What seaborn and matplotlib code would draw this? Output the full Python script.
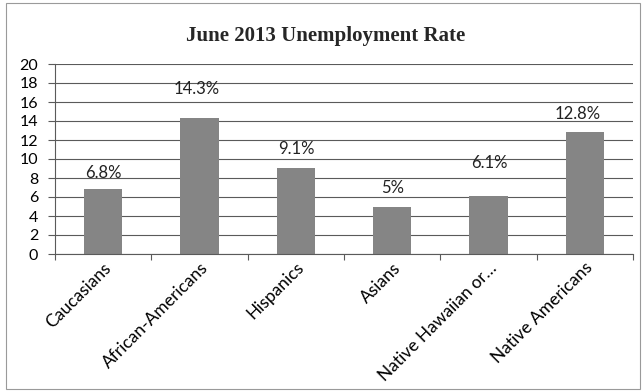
import matplotlib
matplotlib.use("Agg")
import matplotlib.pyplot as plt
from matplotlib.patches import Rectangle
from matplotlib.ticker import FixedLocator, MultipleLocator
import seaborn as sns
import pandas as pd

# June 2013 unemployment rate by group (percent)
groups = ["Caucasians", "African-Americans", "Hispanics", "Asians",
          "Native Hawaiian or\u2026", "Native Americans"]
rates = [6.8, 14.3, 9.1, 5.0, 6.1, 12.8]
rate_labels = ["6.8%", "14.3%", "9.1%", "5%", "6.1%", "12.8%"]
y_ticks = list(range(0, 21, 2))

# hand-placed label nudges (points) relative to the top centre of each bar
label_dx = [0.5, -2.0, 0.3, 0.5, 0.3, -5.0]
label_dy = [11.5, 21.0, 13.0, 13.0, 23.5, 13.5]

sns.set_theme(style="white")
plt.rcParams["font.family"] = ["Lato", "DejaVu Sans"]

df = pd.DataFrame({"group": groups, "rate": rates})

fig = plt.figure(figsize=(6.44, 3.92), dpi=100)
ax = fig.add_axes([55 / 644, 1 - 254 / 392, 578 / 644, 190 / 392])

sns.barplot(data=df, x="group", y="rate", color="#858585", width=0.4,
            saturation=1, edgecolor="none", ax=ax)

ax.set_ylim(0, 20)
ax.set_xlim(-0.5, len(groups) - 0.5)
ax.yaxis.set_major_locator(FixedLocator(y_ticks))
ax.grid(axis="y", color="#5a5a5a", linewidth=0.8)
ax.set_axisbelow(True)

ax.tick_params(axis="y", which="major", direction="out", length=5,
               width=0.8, color="#5a5a5a", pad=7, labelsize=11.5,
               labelcolor="black", left=True)
ax.set_yticklabels([str(t) for t in y_ticks])

# category labels at bar centres, tick marks at category boundaries
ax.tick_params(axis="x", which="major", length=0, pad=4, labelsize=12.5,
               labelcolor="black")
ax.xaxis.set_minor_locator(MultipleLocator(1, offset=0.5))
ax.tick_params(axis="x", which="minor", direction="out", length=4,
               width=0.8, color="#5a5a5a", bottom=True)
for lbl in ax.get_xticklabels():
    lbl.set_rotation(45)
    lbl.set_ha("right")
    lbl.set_va("top")
    lbl.set_rotation_mode("anchor")

for side in ("top", "right"):
    ax.spines[side].set_visible(False)
for side in ("left", "bottom"):
    ax.spines[side].set_color("#5a5a5a")
    ax.spines[side].set_linewidth(0.8)

ax.set_xlabel("")
ax.set_ylabel("")

for i, (v, txt) in enumerate(zip(rates, rate_labels)):
    ax.annotate(txt, xy=(i, v), xytext=(label_dx[i], label_dy[i]),
                textcoords="offset points", ha="center", va="center",
                fontsize=12, color="#222222")

fig.text(0.505, 1 - 36 / 392, "June 2013 Unemployment Rate",
         ha="center", va="center", fontsize=15, fontweight="bold",
         family=["Liberation Serif", "DejaVu Serif"])

# thin frame around the whole chart area
fig.patches.append(Rectangle((6 / 644, 3 / 392), 634 / 644, 386 / 392,
                             transform=fig.transFigure, fill=False,
                             edgecolor="#9a9a9a", linewidth=0.8))

fig.savefig("out.png", dpi=100)
